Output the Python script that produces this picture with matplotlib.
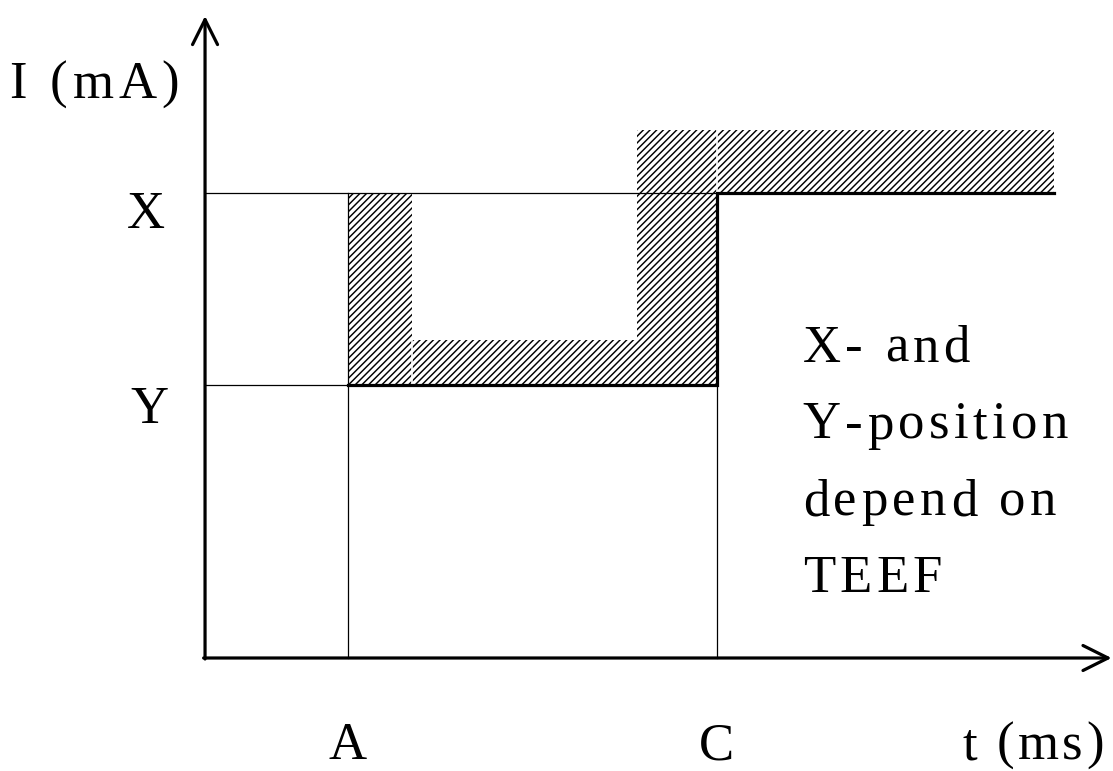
import matplotlib.pyplot as plt
from matplotlib.patches import Rectangle
from matplotlib.transforms import offset_copy
from matplotlib.font_manager import FontProperties, findfont, get_font

plt.rcParams['font.family'] = ['Liberation Serif', 'DejaVu Serif']
plt.rcParams['hatch.linewidth'] = 1.05

# levels and times (arbitrary units)
t_A = 1.0
t_C = 3.58
t_end = 5.94
I_Y = 2.73
I_X = 4.65

# signal (thick line)
sig_t = [t_A, t_C, t_C, t_end]
sig_I = [I_Y, I_Y, I_X, I_X]

# hatched tolerance bands: (t0, t1, I0, I1)
bands_t0 = [t_A, 1.45, 3.02, 3.02]
bands_t1 = [1.45, 3.02, t_C, t_end]
bands_I0 = [I_Y, I_Y, I_Y, I_X]
bands_I1 = [I_X, 3.18, I_X, 5.28]

# small white gaps between hatched blocks
gap_t = [1.45, t_C]
gap_I0 = [I_Y, I_X]
gap_I1 = [3.18, 5.28]

note = ['X- and', 'Y-position', 'depend on', 'TEEF']

DPI = 100
fs = 38
TRACK = 4.4  # extra px between letters

fig = plt.figure(figsize=(11.13, 7.71), dpi=DPI)
ax = fig.add_axes([0, 0, 1, 1])
ax.set_xlim(-1.434, 6.35)
ax.set_ylim(-1.13, 6.58)
ax.axis('off')

font = get_font(findfont(FontProperties(family='Liberation Serif')))
font.set_size(fs, DPI)


def tracked(x, y, s, track=TRACK):
    # letter by letter so the wide spacing of the original can be copied
    dx = 0.0
    for ch in s:
        tr = offset_copy(ax.transData, fig=fig, x=dx, y=0, units='dots')
        ax.text(x, y, ch, fontsize=fs, ha='left', va='baseline', transform=tr)
        g = font.load_char(ord(ch))
        dx += g.linearHoriAdvance / 65536 + track


for t0, t1, i0, i1 in zip(bands_t0, bands_t1, bands_I0, bands_I1):
    ax.add_patch(Rectangle((t0, i0), t1 - t0, i1 - i0, facecolor='white',
                           edgecolor='black', linewidth=0, hatch='/////'))
for t, i0, i1 in zip(gap_t, gap_I0, gap_I1):
    ax.plot([t, t], [i0, i1], color='white', lw=1.2)

# thin guide lines
ax.plot([0, t_C], [I_X, I_X], color='black', lw=0.9)
ax.plot([0, t_A], [I_Y, I_Y], color='black', lw=0.9)
ax.plot([t_A, t_A], [0, I_X], color='black', lw=0.9)
ax.plot([t_C, t_C], [0, I_Y], color='black', lw=0.9)

# signal
ax.plot(sig_t, sig_I, color='black', lw=2.3, solid_joinstyle='miter')

# axes arrows
ax.annotate('', xy=(6.34, 0), xytext=(-0.01, 0),
            arrowprops=dict(arrowstyle='->', lw=2.3, color='black',
                            mutation_scale=45, shrinkA=0, shrinkB=0))
ax.annotate('', xy=(0, 6.42), xytext=(0, -0.01),
            arrowprops=dict(arrowstyle='->', lw=2.3, color='black',
                            mutation_scale=45, shrinkA=0, shrinkB=0))

tracked(-1.37, 5.60, 'I (mA)', 5)
ax.text(-0.41, 4.30, 'X', fontsize=fs, ha='center', va='baseline')
ax.text(-0.39, 2.35, 'Y', fontsize=fs, ha='center', va='baseline')
ax.text(t_A, -1.01, 'A', fontsize=fs, ha='center', va='baseline')
ax.text(t_C, -1.01, 'C', fontsize=fs, ha='center', va='baseline')
tracked(5.30, -1.01, 't (ms)', 3.2)

for k, s in enumerate(note):
    tracked(4.18, 2.96 - k * 0.765, s)

fig.savefig('out.png', dpi=DPI)
